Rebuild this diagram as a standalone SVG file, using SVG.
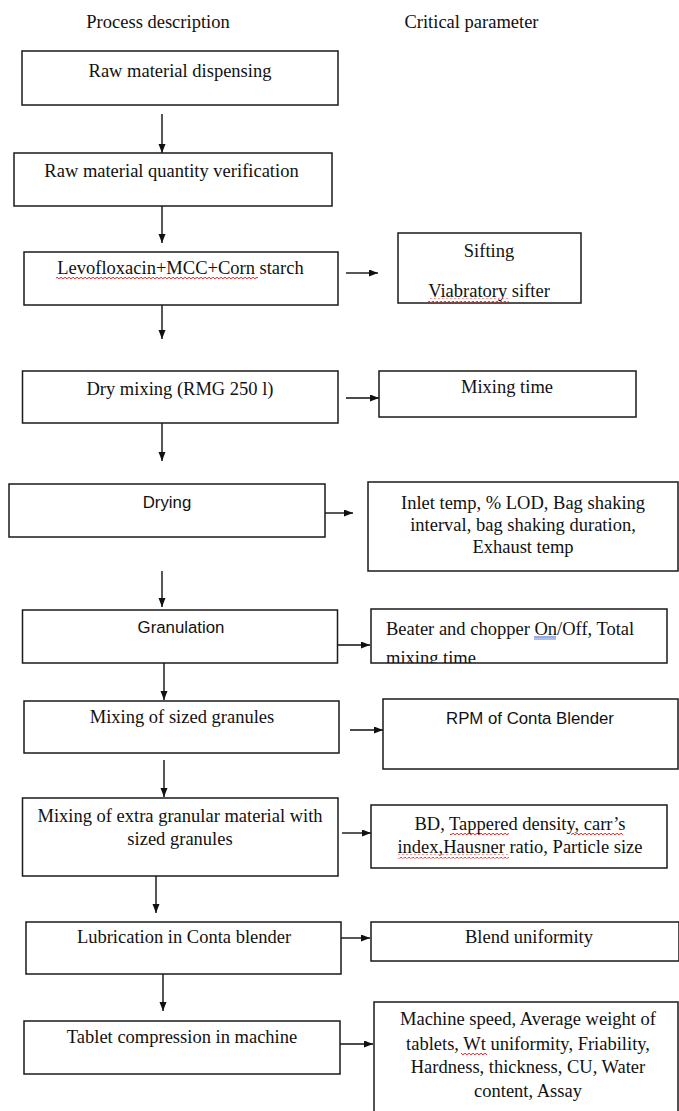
<svg xmlns="http://www.w3.org/2000/svg" width="679" height="1111" viewBox="0 0 679 1111">
<style>
.box{fill:#fff;stroke:#1a1a1a;stroke-width:1.5}
.t{font-family:"Liberation Serif","Times New Roman",serif;font-size:18.5px;fill:#111}
.s{font-family:"Liberation Sans",Arial,sans-serif;font-size:16.8px;fill:#111}
.m{text-anchor:middle}
.c{fill:none;stroke:#111;stroke-width:1.4}
</style>
<defs>
<marker id="ah" markerUnits="userSpaceOnUse" markerWidth="10" markerHeight="8" refX="9" refY="3.5" orient="auto">
<path d="M0,0 L9,3.5 L0,7 z" fill="#111"/>
</marker>
<pattern id="sq" patternUnits="userSpaceOnUse" width="4" height="4">
<path d="M0,2.5 L1,1 L3,3 L4,1.5" fill="none" stroke="#e02020" stroke-width="0.9"/>
</pattern>
<clipPath id="clipBeater"><rect x="371" y="609" width="296" height="54"/></clipPath>
</defs>
<rect width="679" height="1111" fill="#fff"/>

<g id="headers">
<text class="t m" x="158" y="28">Process description</text>
<text class="t m" x="471.5" y="28">Critical parameter</text>
</g>

<g id="connectors">
<line class="c" x1="162" y1="114" x2="162" y2="153" marker-end="url(#ah)"/>
<line class="c" x1="162" y1="206" x2="162" y2="243" marker-end="url(#ah)"/>
<line class="c" x1="162" y1="305" x2="162" y2="339" marker-end="url(#ah)"/>
<line class="c" x1="162" y1="423" x2="162" y2="461" marker-end="url(#ah)"/>
<line class="c" x1="162" y1="571" x2="162" y2="607" marker-end="url(#ah)"/>
<line class="c" x1="164" y1="663" x2="164" y2="700" marker-end="url(#ah)"/>
<line class="c" x1="164" y1="760" x2="164" y2="797" marker-end="url(#ah)"/>
<line class="c" x1="156" y1="876" x2="156" y2="913" marker-end="url(#ah)"/>
<line class="c" x1="163" y1="974" x2="163" y2="1011" marker-end="url(#ah)"/>
<line class="c" x1="346" y1="273" x2="378" y2="273" marker-end="url(#ah)"/>
<line class="c" x1="346" y1="398" x2="379" y2="398" marker-end="url(#ah)"/>
<line class="c" x1="325" y1="513" x2="353" y2="513" marker-end="url(#ah)"/>
<line class="c" x1="337" y1="645" x2="370" y2="645" marker-end="url(#ah)"/>
<line class="c" x1="350" y1="730" x2="383" y2="730" marker-end="url(#ah)"/>
<line class="c" x1="342" y1="833" x2="371" y2="833" marker-end="url(#ah)"/>
<line class="c" x1="338" y1="938" x2="370" y2="938" marker-end="url(#ah)"/>
<line class="c" x1="340" y1="1044" x2="373" y2="1044" marker-end="url(#ah)"/>
</g>

<g id="n-raw-dispensing">
<rect class="box" x="22" y="51" width="316" height="54"/>
<text class="t m" x="180" y="77">Raw material dispensing</text>
</g>
<g id="n-quantity-verification">
<rect class="box" x="14" y="153" width="318" height="53"/>
<text class="t m" x="171.5" y="177">Raw material quantity verification</text>
</g>
<g id="n-levofloxacin">
<rect class="box" x="24" y="252" width="314" height="53"/>
<text class="t m" x="180.5" y="274">Levofloxacin+MCC+Corn starch</text>
<rect x="56" y="275.5" width="202" height="4" fill="url(#sq)"/>
</g>
<g id="p-sifting">
<rect class="box" x="398" y="233" width="183" height="70"/>
<text class="t m" x="489" y="257">Sifting</text>
<text class="t m" x="489" y="297">Viabratory sifter</text>
<rect x="428" y="298.5" width="81" height="4" fill="url(#sq)"/>
</g>
<g id="n-dry-mixing">
<rect class="box" x="22.5" y="371" width="315.5" height="52"/>
<text class="t m" x="180" y="395">Dry mixing (RMG 250 l)</text>
</g>
<g id="p-mixing-time">
<rect class="box" x="379" y="371" width="257" height="46"/>
<text class="t m" x="507" y="393">Mixing time</text>
</g>
<g id="n-drying">
<rect class="box" x="9" y="484" width="316" height="53"/>
<text class="s m" x="167" y="508">Drying</text>
</g>
<g id="p-drying-params">
<rect class="box" x="368" y="482" width="310" height="89"/>
<text class="t m" x="523" y="509">Inlet temp, % LOD, Bag shaking</text>
<text class="t m" x="523" y="531">interval, bag shaking duration,</text>
<text class="t m" x="523" y="553">Exhaust temp</text>
</g>
<g id="n-granulation">
<rect class="box" x="22.5" y="610" width="315" height="53"/>
<text class="s m" x="181" y="633">Granulation</text>
</g>
<g id="p-granulation-params">
<rect class="box" x="371" y="609" width="296" height="54"/>
<g clip-path="url(#clipBeater)">
<text class="t" x="386" y="635">Beater and chopper On/Off, Total</text>
<text class="t" x="386" y="664">mixing time</text>
</g>
<line x1="534" y1="637" x2="556" y2="637" stroke="#2a5bd7" stroke-width="1"/>
<line x1="534" y1="639" x2="556" y2="639" stroke="#2a5bd7" stroke-width="0.8"/>
</g>
<g id="n-mixing-sized">
<rect class="box" x="24" y="701" width="315" height="52"/>
<text class="t m" x="182" y="723">Mixing of sized granules</text>
</g>
<g id="p-rpm">
<rect class="box" x="383" y="699" width="295" height="70"/>
<text class="s m" x="530" y="724">RPM of Conta Blender</text>
</g>
<g id="n-extra-granular">
<rect class="box" x="22.5" y="798" width="315.5" height="78"/>
<text class="t m" x="180" y="822">Mixing of extra granular material with</text>
<text class="t m" x="180" y="845">sized granules</text>
</g>
<g id="p-density">
<rect class="box" x="371" y="805" width="296" height="63"/>
<text class="t m" x="520" y="830">BD, Tappered density, carr’s</text>
<text class="t m" x="520" y="853">index,Hausner ratio, Particle size</text>
<rect x="450" y="831.5" width="59" height="4" fill="url(#sq)"/>
<rect x="571" y="831.5" width="52" height="4" fill="url(#sq)"/>
<rect x="398" y="854.5" width="111" height="4" fill="url(#sq)"/>
</g>
<g id="n-lubrication">
<rect class="box" x="26" y="922" width="315" height="52"/>
<text class="t m" x="184" y="943">Lubrication in Conta blender</text>
</g>
<g id="p-blend">
<rect class="box" x="371" y="922" width="308" height="39"/>
<text class="t m" x="529" y="943">Blend uniformity</text>
</g>
<g id="n-compression">
<rect class="box" x="24" y="1021" width="316" height="53"/>
<text class="t m" x="182" y="1043">Tablet compression in machine</text>
</g>
<g id="p-compression-params">
<rect class="box" x="374" y="1002" width="304" height="120"/>
<text class="t m" x="528" y="1025">Machine speed, Average weight of</text>
<text class="t m" x="528" y="1050">tablets, Wt uniformity, Friability,</text>
<text class="t m" x="528" y="1073">Hardness, thickness, CU, Water</text>
<text class="t m" x="528" y="1097">content, Assay</text>
<rect x="461" y="1051.5" width="26" height="4" fill="url(#sq)"/>
</g>
</svg>
